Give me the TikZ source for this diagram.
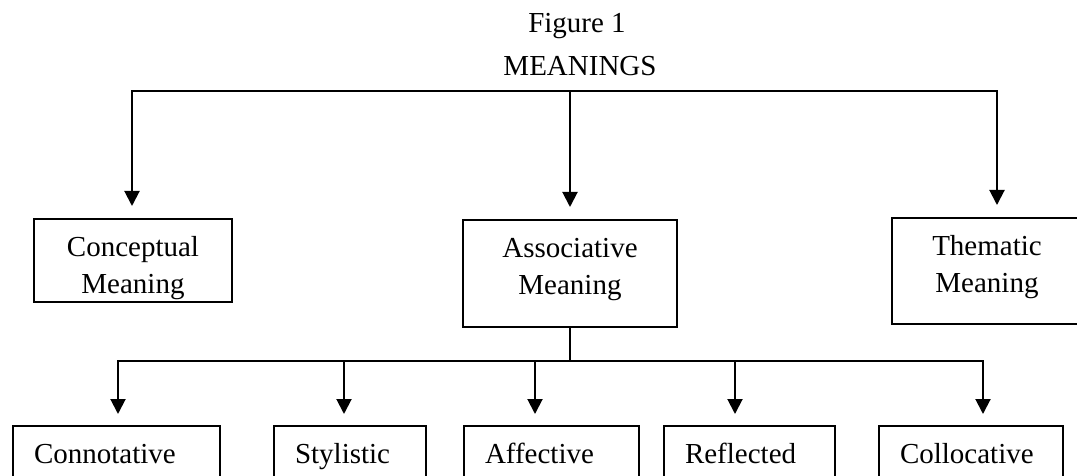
\documentclass[tikz,border=0pt]{standalone}
\usepackage{fontspec}
\setmainfont{Liberation Serif}
\usetikzlibrary{arrows.meta}

\begin{document}
\begin{tikzpicture}[x=0.5pt, y=-0.5pt,
  every node/.style={font=\fontsize{14.5}{18.5}\selectfont},
  box/.style={draw, line width=1pt, anchor=north, inner xsep=0pt, inner ysep=9pt,
    text height=9.6pt, align=center, text width=#1},
  leaf/.style={draw, line width=1pt, anchor=north west, inner xsep=10.5pt, inner ysep=9pt,
    text height=9.6pt, text depth=30pt, align=left, text width=#1},
  bar/.style={line width=1pt, line cap=rect},
  link/.style={line width=1pt, -{Triangle[width=7.5pt,length=7.5pt]}}]

 \clip (0,0) rectangle (1077,476);

 % title
 \node[anchor=base] (fig) at (577,33) {Figure 1};
 \node[anchor=base] (meanings) at (580,76) {MEANINGS};

 % first level
 \node[box=99pt, text depth=14pt] (concept) at (133,218) {Conceptual\\Meaning};
 \node[box=107pt, text depth=26pt] (assoc) at (570,219) {Associative\\Meaning};
 \node[box=95pt, text depth=25.5pt] (thematic) at (987,217) {Thematic\\Meaning};

 % second level
 \node[leaf=82.5pt] (conn) at (12,425) {Connotative};
 \node[leaf=55pt] (styl) at (273,425) {Stylistic};
 \node[leaf=66.5pt] (affe) at (463,425) {Affective};
 \node[leaf=64.5pt] (refl) at (663,425) {Reflected};
 \node[leaf=71pt] (coll) at (878,425) {Collocative};

 % connectors
 \coordinate (topbar) at (0,91);
 \coordinate (lowbar) at (0,361);
 \foreach \name/\dx in {concept/-0.5pt, assoc/0pt, thematic/5pt}
   \coordinate (\name-in) at ([xshift=\dx]\name.north);
 \foreach \name/\dx in {conn/0.75pt, styl/-3pt, affe/-8.25pt, refl/-7.25pt, coll/6pt}
   \coordinate (\name-in) at ([xshift=\dx]\name.north);

 \draw[bar] (concept-in |- topbar) -- (thematic-in |- topbar);
 \foreach \name in {concept, assoc, thematic}
   \draw[link, shorten >=6pt] (\name-in |- topbar) -- (\name-in);

 \draw[line width=1pt] (assoc.south) -- (assoc.south |- lowbar);
 \draw[bar] (conn-in |- lowbar) -- (coll-in |- lowbar);
 \foreach \name in {conn, styl, affe, refl, coll}
   \draw[link, shorten >=5.5pt] (\name-in |- lowbar) -- (\name-in);

\end{tikzpicture}
\end{document}
